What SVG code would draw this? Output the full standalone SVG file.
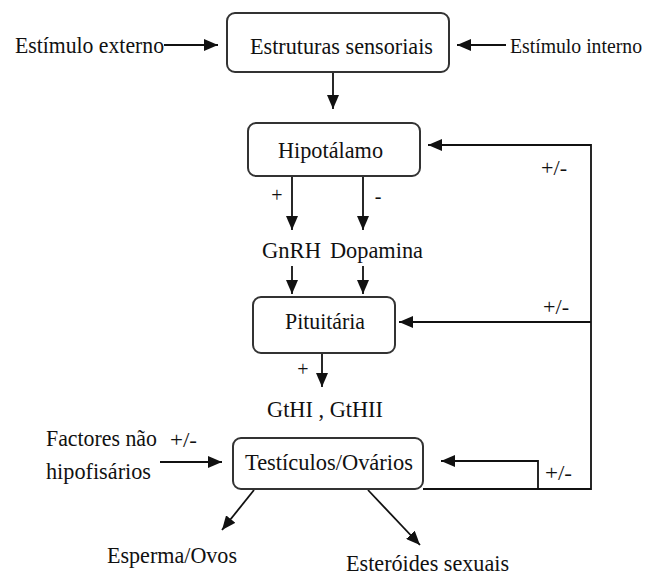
<svg xmlns="http://www.w3.org/2000/svg" width="658" height="576" viewBox="0 0 658 576">
<defs>
<marker id="arr" viewBox="0 0 14 12" refX="14" refY="6" markerWidth="14" markerHeight="12" markerUnits="userSpaceOnUse" orient="auto">
<path d="M0,0 L14,6 L0,12 z" fill="#111"/>
</marker>
</defs>
<style>
.box{fill:#fff;stroke:#333;stroke-width:2}
.t{font-family:"Times New Roman",Times,"Liberation Serif","DejaVu Serif",serif;font-size:24px;fill:#111}
.s{font-family:"Times New Roman",Times,"Liberation Serif","DejaVu Serif",serif;font-size:20px;fill:#111}
.c{fill:none;stroke:#111;stroke-width:1.8}
</style>
<rect width="658" height="576" fill="#fff"/>
<g id="connectors">
<line class="c" x1="164" y1="45" x2="218" y2="45" marker-end="url(#arr)"/>
<line class="c" x1="506" y1="45" x2="457" y2="45" marker-end="url(#arr)"/>
<line class="c" x1="333" y1="72" x2="333" y2="109" marker-end="url(#arr)"/>
<line class="c" x1="292" y1="176" x2="292" y2="230" marker-end="url(#arr)"/>
<line class="c" x1="363" y1="176" x2="363" y2="230" marker-end="url(#arr)"/>
<line class="c" x1="292" y1="266" x2="292" y2="294" marker-end="url(#arr)"/>
<line class="c" x1="363" y1="266" x2="363" y2="294" marker-end="url(#arr)"/>
<line class="c" x1="322" y1="353" x2="322" y2="387" marker-end="url(#arr)"/>
<polyline class="c" points="423,489 591,489 591,145 428,145" marker-end="url(#arr)"/>
<line class="c" x1="591" y1="322" x2="399" y2="322" marker-end="url(#arr)"/>
<polyline class="c" points="538,489 538,461 441,461" marker-end="url(#arr)"/>
<line class="c" x1="160" y1="462" x2="222" y2="462" marker-end="url(#arr)"/>
<line class="c" x1="254" y1="490" x2="222" y2="530" marker-end="url(#arr)"/>
<line class="c" x1="368" y1="490" x2="420" y2="545" marker-end="url(#arr)"/>
<text class="s" x="277" y="202" text-anchor="middle">+</text>
<text class="s" x="378" y="203" text-anchor="middle">-</text>
<text class="s" x="541" y="175" textLength="26" lengthAdjust="spacingAndGlyphs">+/-</text>
<text class="s" x="543" y="314" textLength="26" lengthAdjust="spacingAndGlyphs">+/-</text>
<text class="s" x="303" y="376" text-anchor="middle">+</text>
<text class="s" x="170" y="447" textLength="27" lengthAdjust="spacingAndGlyphs">+/-</text>
<text class="s" x="545" y="480" textLength="27" lengthAdjust="spacingAndGlyphs">+/-</text>
</g>
<g id="estimulo-externo"><text class="t" x="15" y="53" textLength="149" lengthAdjust="spacingAndGlyphs">Estímulo externo</text></g>
<g id="estimulo-interno"><text class="t" x="510" y="53" style="font-size:20px" textLength="132" lengthAdjust="spacingAndGlyphs">Estímulo interno</text></g>
<g id="estruturas">
<rect class="box" x="227" y="13" width="222" height="59" rx="8"/>
<text class="t" x="250" y="54" textLength="183" lengthAdjust="spacingAndGlyphs">Estruturas sensoriais</text>
</g>
<g id="hipotalamo">
<rect class="box" x="248" y="123" width="172" height="53" rx="8"/>
<text class="t" x="278" y="158" textLength="105" lengthAdjust="spacingAndGlyphs">Hipotálamo</text>
</g>
<g id="gnrh"><text class="t" x="262" y="258" textLength="59" lengthAdjust="spacingAndGlyphs">GnRH</text></g>
<g id="dopamina"><text class="t" x="330" y="258" textLength="93" lengthAdjust="spacingAndGlyphs">Dopamina</text></g>
<g id="pituitaria">
<rect class="box" x="253" y="297" width="142" height="56" rx="8"/>
<text class="t" x="285" y="329" textLength="80" lengthAdjust="spacingAndGlyphs">Pituitária</text>
</g>
<g id="gth"><text class="t" x="267" y="417" textLength="116" lengthAdjust="spacingAndGlyphs">GtHI , GtHII</text></g>
<g id="factores">
<text class="t" x="46" y="446" textLength="111" lengthAdjust="spacingAndGlyphs">Factores não</text>
<text class="t" x="46" y="479" textLength="105" lengthAdjust="spacingAndGlyphs">hipofisários</text>
</g>
<g id="testiculos">
<rect class="box" x="233" y="438" width="190" height="51" rx="8"/>
<text class="t" x="245" y="470" textLength="168" lengthAdjust="spacingAndGlyphs">Testículos/Ovários</text>
</g>
<g id="esperma"><text class="t" x="107" y="563" textLength="130" lengthAdjust="spacingAndGlyphs">Esperma/Ovos</text></g>
<g id="esteroides"><text class="t" x="346" y="571" textLength="163" lengthAdjust="spacingAndGlyphs">Esteróides sexuais</text></g>
</svg>
